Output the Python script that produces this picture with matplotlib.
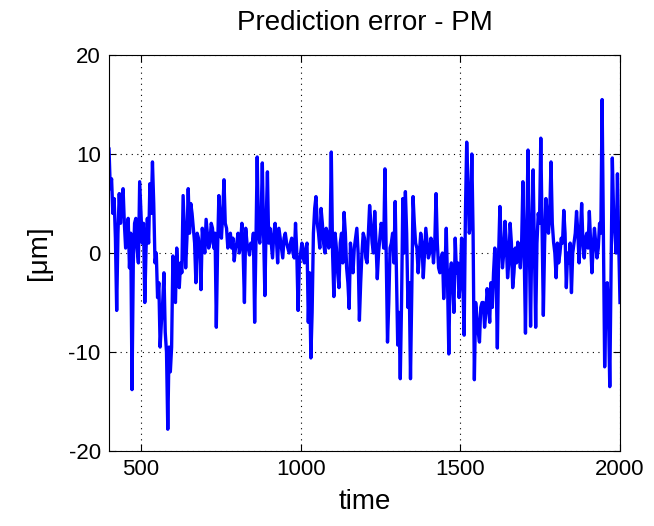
import numpy as np
import matplotlib
matplotlib.use('Agg')
from matplotlib import pyplot as plt

plt.rcParams['font.family'] = ['Liberation Sans', 'DejaVu Sans']
plt.rcParams['axes.unicode_minus'] = False

# sample times, every 4 time units:
# the "peak" list sits on t = 400, 408, ... and the "band" list on t = 404, 412, ...
T_START = 400
T_STEP = 8

# prediction error in micrometres (the spikes / extremes)
error_peak = [
    10.5, 7.5, 5.5, -5.8, 6.0, 5.5, 3.0, 1.5, -1.5, -13.8,
    3.0, 0.5, 7.2, 1.0, -5.0, 3.5, 7.0, 9.2, -1.0, -4.5,
    -9.5, -5.0, -8.0, -17.8, -12.0, -0.3, -5.0, -2.0, -1.0, 5.8,
    -1.5, 6.5, 5.0, 2.5, -3.0, 1.5, -3.7, 1.0, 3.4, 0.5,
    3.0, 0.5, -7.5, 5.8, 1.5, 7.4, 2.5, 1.5, 0.5, -0.8,
    1.0, 0.0, 3.0, -5.0, 1.0, -0.2, 0.5, -7.0, 9.7, 1.0,
    9.1, -4.3, 8.2, 2.5, -0.5, 3.0, -1.0, 1.5, -0.5, 2.0,
    0.5, 1.0, 0.0, 3.0, -5.8, 0.0, -0.5, 0.5, -7.0, -10.6,
    2.0, 5.7, 2.0, 4.5, 1.0, 2.5, 0.5, 10.2, -4.4, 0.5,
    -3.5, 2.0, 4.1, -1.5, -5.6, -1.0, 0.5, 2.5, -6.8, 0.0,
    1.5, -1.0, 4.8, 1.0, 4.2, -2.6, 1.5, 2.5, 8.5, -9.0,
    0.5, 2.0, 5.2, -9.3, -12.7, 5.5, 6.2, -5.5, -12.7, 5.7,
    1.0, -2.0, 2.0, -2.5, 2.5, -0.5, 1.5, -1.0, 6.0, -1.5,
    -0.5, -4.6, 2.5, -10.2, -1.0, -6.0, -2.0, -4.5, 1.5, -8.3,
    11.2, 2.0, 10.0, -12.8, -6.5, -9.0, -5.0, -7.5, -3.6, -7.0,
    -5.5, 0.5, -9.6, 4.7, -1.5, 3.2, -2.5, 3.0, -3.5, 0.5,
    1.1, -1.5, 7.2, -8.1, 10.4, -7.4, 8.4, -7.5, 4.0, 11.6,
    -6.3, 5.5, 2.0, 9.2, 1.1, -2.5, -1.0, 1.5, 4.3, -3.5,
    -1.0, -4.0, 1.0, 4.2, -1.0, 5.0, -0.5, 2.0, 4.2, -2.0,
    2.5, -0.5, 3.0, 15.5, -11.5, -3.0, -13.5, 9.6, 2.0, 8.0,
    -5.0,
]

# prediction error in micrometres (the body of the trace in between)
error_band = [
    6.5, 4.0, 1.5, 2.0, 3.0, 6.5, 0.5, 3.5, 2.0, -1.0,
    3.5, -1.0, 4.0, 3.0, 0.5, 1.0, 4.0, 5.0, 0.0, -3.0,
    -7.0, -2.0, -10.0, -9.5, -9.5, -3.0, 0.5, -3.5, -2.0, 2.0,
    1.5, 2.0, 4.0, 1.0, 2.0, 0.0, 2.5, 0.0, 2.0, 1.0,
    2.5, 2.0, 0.5, 3.5, 4.0, 3.0, 0.5, 2.0, 1.5, 0.5,
    2.0, 1.0, 0.0, 2.5, 0.5, 1.0, 2.0, 1.0, 2.0, 3.0,
    2.0, 3.0, 1.0, 1.0, 2.0, 1.5, 2.5, 0.5, 1.5, 1.0,
    0.0, 1.5, -0.5, 0.0, -1.0, 1.0, -1.0, 1.0, -2.0, -6.0,
    4.5, 3.0, 0.5, 3.0, 0.0, 2.0, 1.0, 0.0, 2.0, -2.0,
    1.0, -1.0, 2.0, -3.0, 1.0, -2.0, 1.5, 0.0, -3.0, 2.0,
    -0.5, 2.0, 3.0, 0.0, 1.0, 0.0, 3.0, 0.5, 0.0, -5.0,
    1.0, -1.0, -2.0, -6.0, -5.0, 0.0, 2.0, -3.0, -4.0, 3.0,
    0.5, 0.0, 1.0, 0.0, 1.0, 0.0, 1.0, 1.0, 1.0, -2.0,
    0.0, -1.5, -3.0, -2.0, -3.0, 1.5, -1.0, -3.0, -3.0, 4.0,
    7.0, 3.0, 2.0, -5.0, -8.0, -5.5, -5.0, -6.0, -5.0, -3.0,
    -2.0, -2.0, 0.0, 1.0, 0.0, 1.0, -1.0, 1.0, -2.0, -1.0,
    0.5, 1.0, 0.0, 2.0, 1.0, 2.0, 0.5, 1.0, 3.0, 3.0,
    1.0, 4.0, 4.0, 3.0, 0.0, 1.0, 0.0, 1.0, 2.0, 0.0,
    1.0, 0.0, 2.0, 2.0, 2.0, 1.0, 1.5, 0.5, 1.0, 0.5,
    1.0, 0.5, 2.0, 2.0, -5.0, -6.0, -2.0, 4.0, 0.0, 1.0,
]

x_ticks = [500, 1000, 1500, 2000]
y_ticks = [-20, -10, 0, 10, 20]

# merge the two readings into one time series
t_peak = T_START + T_STEP * np.arange(len(error_peak))
t_band = T_START + T_STEP // 2 + T_STEP * np.arange(len(error_band))
t = np.concatenate([t_peak, t_band])
err = np.concatenate([error_peak, error_band])
order = np.argsort(t)
t = t[order]
err = err[order]

fig = plt.figure(figsize=(6.54, 5.26), dpi=100)
ax = fig.add_axes([0.1667, 0.1426, 0.7813, 0.7528])

ax.plot(t, err, color='#0000ff', linewidth=2.4)

ax.set_xlim(400, 2000)
ax.set_ylim(-20, 20)
ax.set_xticks(x_ticks)
ax.set_yticks(y_ticks)
ax.grid(True, color='black', linestyle=(0, (1, 4)), linewidth=0.8)
ax.tick_params(direction='in', top=True, right=True, labelsize=16, length=5, width=0.8, pad=6)
for spine in ax.spines.values():
    spine.set_linewidth(0.8)

ax.set_title('Prediction error - PM', fontsize=20, pad=18)
ax.set_xlabel('time', fontsize=20, labelpad=6)
ax.set_ylabel('[\u03bcm]', fontsize=20, labelpad=12)

fig.savefig('out.png', dpi=100)
